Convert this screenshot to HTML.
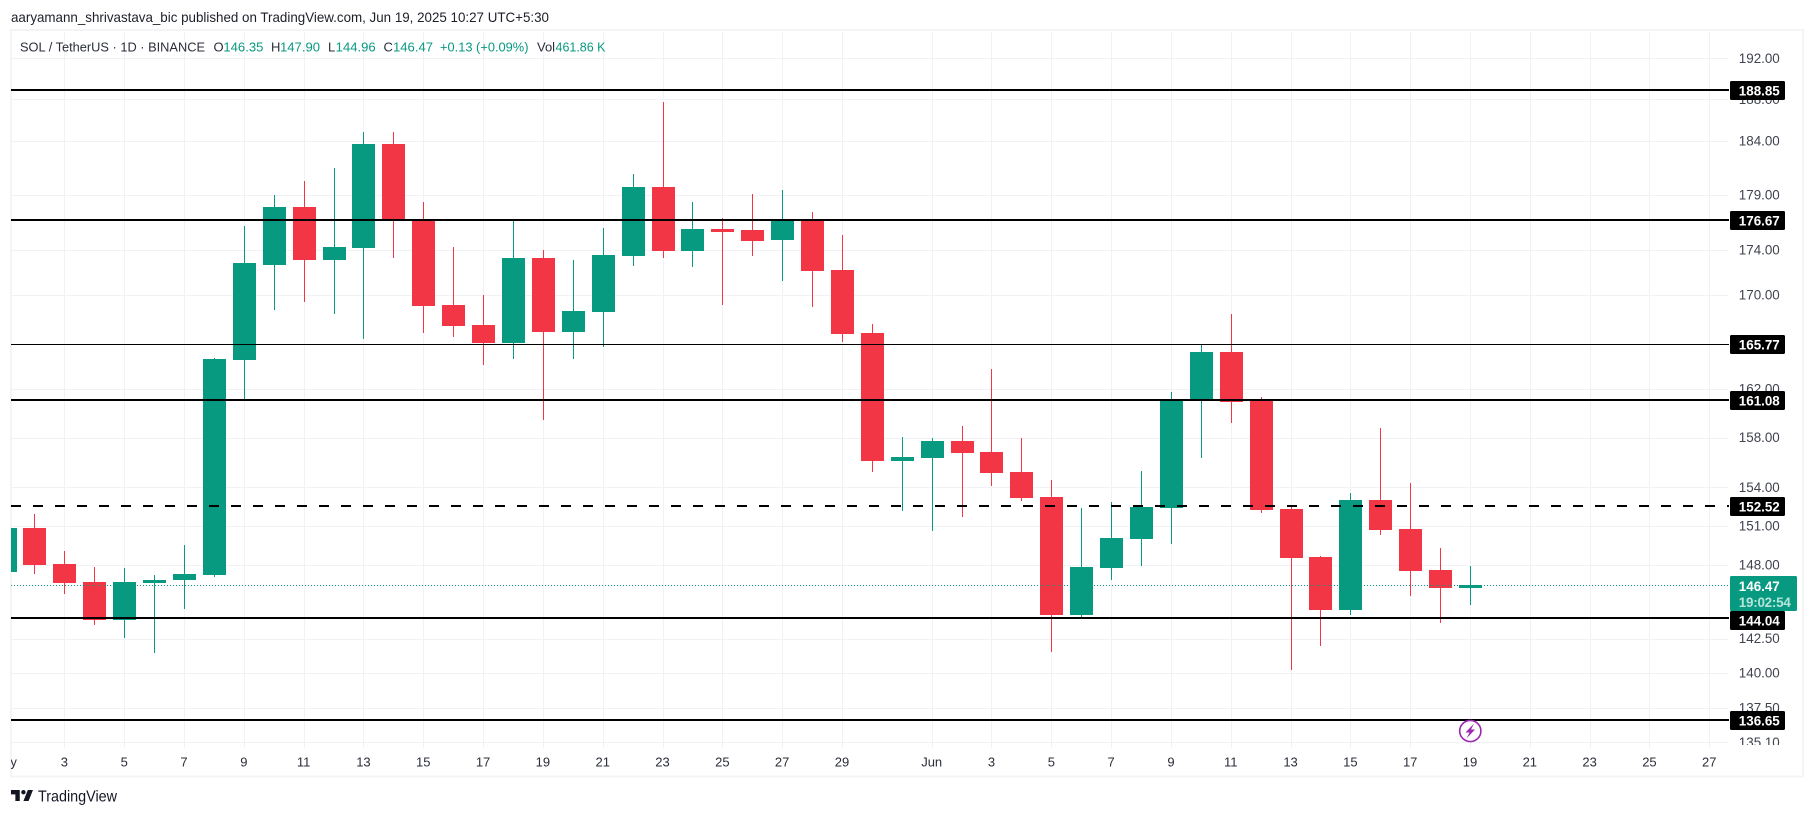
<!DOCTYPE html>
<html lang="en">
<head>
<meta charset="utf-8">
<title>SOL / TetherUS 1D chart</title>
<style>
html,body{margin:0;padding:0;background:#fff;width:1814px;height:816px;overflow:hidden}
svg{display:block;font-family:"Liberation Sans",sans-serif}
</style>
</head>
<body>
<svg id="chart" xmlns="http://www.w3.org/2000/svg" width="1814" height="816" viewBox="0 0 1814 816">
  <defs>
    <clipPath id="plot-clip"><rect x="11" y="31" width="1717" height="714"/></clipPath>
    <clipPath id="time-clip"><rect x="11" y="748" width="1717" height="28"/></clipPath>
    <clipPath id="price-clip"><rect x="1729" y="31" width="74" height="714"/></clipPath>
  </defs>
  <rect x="11" y="30" width="1792" height="746.5" fill="#fff" stroke="#f3f4f6" stroke-width="2"/>
  <text x="11" y="22" font-size="14" fill="#1c1f29" textLength="538" lengthAdjust="spacingAndGlyphs">aaryamann_shrivastava_bic published on TradingView.com, Jun 19, 2025 10:27 UTC+5:30</text>
  <g id="grid"></g>
  <g id="candles" clip-path="url(#plot-clip)"></g>
  <g id="levels"></g>
  <g id="price-axis"></g>
  <g id="time-axis"></g>
  <g font-size="13">
    <text x="20" y="51.5" fill="#2a2e39" textLength="185" lengthAdjust="spacingAndGlyphs">SOL / TetherUS · 1D · BINANCE</text>
    <text x="213.5" y="51.5" fill="#2a2e39">O</text>
    <text x="223.4" y="51.5" fill="#089981" textLength="40" lengthAdjust="spacingAndGlyphs">146.35</text>
    <text x="271" y="51.5" fill="#2a2e39">H</text>
    <text x="280" y="51.5" fill="#089981" textLength="40" lengthAdjust="spacingAndGlyphs">147.90</text>
    <text x="328" y="51.5" fill="#2a2e39">L</text>
    <text x="335.7" y="51.5" fill="#089981" textLength="40" lengthAdjust="spacingAndGlyphs">144.96</text>
    <text x="383.5" y="51.5" fill="#2a2e39">C</text>
    <text x="393" y="51.5" fill="#089981" textLength="40" lengthAdjust="spacingAndGlyphs">146.47</text>
    <text x="440" y="51.5" fill="#089981" textLength="88.5" lengthAdjust="spacingAndGlyphs">+0.13 (+0.09%)</text>
    <text x="537" y="51.5" fill="#2a2e39">Vol</text>
    <text x="555.5" y="51.5" fill="#089981" textLength="50" lengthAdjust="spacingAndGlyphs">461.86 K</text>
  </g>
  <g>
    <circle cx="1470.3" cy="731" r="10.6" fill="#fff" stroke="#9c27b0" stroke-width="1.6"/>
    <path d="M1474 723.5L1465.5 732.5h4l-3 6 8.5-9h-4z" fill="#9c27b0"/>
  </g>
  <g>
    <path transform="translate(9.5 785.6) scale(.733)" fill="#131722" d="M14 6H2v6h6v9h6V6Zm12 15h-7l6-15h7l-6 15Zm-7-9a3 3 0 1 0 0-6 3 3 0 0 0 0 6Z"/>
    <text x="38" y="801.5" font-size="16" fill="#131722" textLength="79" lengthAdjust="spacingAndGlyphs">TradingView</text>
  </g>
</svg>
<script>
// ---- data -----------------------------------------------------------------
const dates = ["May 1","May 2","May 3","May 4","May 5","May 6","May 7","May 8","May 9","May 10","May 11","May 12","May 13","May 14","May 15","May 16","May 17","May 18","May 19","May 20","May 21","May 22","May 23","May 24","May 25","May 26","May 27","May 28","May 29","May 30","May 31","Jun 1","Jun 2","Jun 3","Jun 4","Jun 5","Jun 6","Jun 7","Jun 8","Jun 9","Jun 10","Jun 11","Jun 12","Jun 13","Jun 14","Jun 15","Jun 16","Jun 17","Jun 18","Jun 19"];
const opens  = [147.47,150.84,148.07,146.71,143.87,146.64,146.86,147.24,164.43,172.66,177.89,173.11,174.17,183.73,176.62,169.14,167.42,165.87,173.28,166.82,168.54,173.46,179.73,173.90,175.89,175.80,174.89,176.71,172.22,166.73,156.11,156.35,157.73,156.83,155.24,153.25,144.24,147.77,149.98,152.39,161.08,165.10,161.08,152.31,148.60,144.61,153.01,150.76,147.62,146.35];
const highs  = [151.50,151.92,149.05,147.84,147.77,147.24,149.52,164.60,176.16,178.98,180.28,181.49,184.88,184.88,178.34,174.26,170.01,176.80,173.99,173.11,175.98,180.93,187.74,178.34,176.89,179.08,179.45,177.43,175.35,167.51,158.05,157.97,158.95,163.68,157.97,154.60,152.39,152.85,155.32,161.75,165.79,168.37,161.33,152.47,148.68,153.57,158.79,154.36,149.29,147.90];
const lows   = [146.80,147.32,145.80,143.50,142.54,141.44,144.69,147.09,161.16,168.71,169.40,168.37,166.22,173.28,166.73,166.39,164.01,164.52,159.44,164.52,165.53,172.58,173.28,172.49,169.14,173.46,171.25,168.97,165.96,155.24,152.16,150.60,151.69,154.12,152.93,141.52,144.10,146.86,147.92,149.60,156.35,159.20,152.00,140.22,141.95,144.24,150.29,145.65,143.65,144.96];
const closes = [150.84,147.99,146.64,143.87,146.71,146.86,147.32,164.52,172.84,177.89,173.11,174.26,183.73,176.62,169.05,167.33,165.87,173.28,166.82,168.62,173.55,179.73,173.90,175.89,175.71,174.80,176.71,172.13,166.65,156.11,156.43,157.73,156.75,155.16,153.17,144.24,147.84,150.06,152.47,161.08,165.10,160.92,152.23,148.53,144.61,153.01,150.68,147.54,146.26,146.47];

const priceTicks = ["192.00","188.00","184.00","179.00","174.00","170.00","162.00","158.00","154.00","151.00","148.00","142.50","140.00","137.50","135.10"];
const timeTickLabels = ["May","3","5","7","9","11","13","15","17","19","21","23","25","27","29","Jun","3","5","7","9","11","13","15","17","19","21","23","25","27"];
const timeTickDays = [0,2,4,6,8,10,12,14,16,18,20,22,24,26,28,31,33,35,37,39,41,43,45,47,49,51,53,55,57];

const levelPrices = ["188.85","176.67","165.77","161.08","152.52","144.04","136.65"];
const levelWidths = [2,2,1,2,2,2,2];
const dashedLevel = "152.52";
const lastPrice = "146.47";
const countdown = "19:02:54";

// ---- axis functions -------------------------------------------------------
const PLOT_L = 11, PLOT_R = 1728, PLOT_T = 32, PLOT_B = 745;
function yScale(p) { return 58.3 + 1946 * Math.log(192 / p); }
function xScale(i) { return 663.02 + 29.907 * (i - 22); }

const NS = "http://www.w3.org/2000/svg";
function make(parent, tag, attrs, txt) {
  const el = document.createElementNS(NS, tag);
  for (const k in attrs) el.setAttribute(k, attrs[k]);
  if (txt !== undefined) el.textContent = txt;
  parent.appendChild(el);
  return el;
}

const GREEN = "#089981", RED = "#F23645", GRID = "#f1f2f5";

// ---- grid -----------------------------------------------------------------
const gridG = document.getElementById("grid");
priceTicks.forEach(function (t) {
  const y = Math.round(yScale(parseFloat(t)));
  const ln = make(gridG, "rect", {x: PLOT_L, y: y, width: PLOT_R - PLOT_L, height: 1, fill: GRID});
  
  
});
timeTickDays.forEach(function (d) {
  const x = Math.floor(xScale(d));
  if (x < PLOT_L) return;
  const ln = make(gridG, "rect", {x: x, y: PLOT_T, width: 1, height: PLOT_B + 3 - PLOT_T, fill: GRID});
  
  
});

// ---- candles --------------------------------------------------------------
const candleG = document.getElementById("candles");
dates.forEach(function (d, i) {
  const x = Math.floor(xScale(i));
  const up = closes[i] >= opens[i];
  const col = up ? GREEN : RED;
  const g = make(candleG, "g", {});
  
  
  const yH = Math.round(yScale(highs[i])), yL = Math.round(yScale(lows[i]));
  const wick = make(g, "rect", {x: x, y: yH, width: 1, height: yL - yH, fill: col});
  
  
  const yTop = Math.round(yScale(Math.max(opens[i], closes[i])));
  const yBot = Math.round(yScale(Math.min(opens[i], closes[i])));
  const body = make(g, "rect", {x: x - 11, y: yTop, width: 23, height: Math.max(3, yBot - yTop), fill: col});
  
  
});

// ---- horizontal levels ----------------------------------------------------
const levelG = document.getElementById("levels");
const lastY = Math.round(yScale(parseFloat(lastPrice)));
const lastLine = make(levelG, "line", {x1: PLOT_L, x2: PLOT_R, y1: lastY + .5, y2: lastY + .5, stroke: GREEN, "stroke-width": 1, "stroke-dasharray": "1 2"});


levelPrices.forEach(function (p, i) {
  const y = Math.round(yScale(parseFloat(p))) + (levelWidths[i] === 1 ? .5 : 0);
  const attrs = {x1: PLOT_L, x2: PLOT_R + 1, y1: y, y2: y, stroke: "#000", "stroke-width": levelWidths[i]};
  if (p === dashedLevel) attrs["stroke-dasharray"] = "10 12";
  const ln = make(levelG, "line", attrs);
  
  
});

// ---- price axis -----------------------------------------------------------
const priceG = document.getElementById("price-axis");
const tickWrap = make(priceG, "g", {"clip-path": "url(#price-clip)"});
priceTicks.forEach(function (t) {
  const y = yScale(parseFloat(t));
  const tx = make(tickWrap, "text", {x: 1738.8, y: y + 4.6, "font-size": 13.4, fill: "#3f434e"}, t);
  
  
});
const lastBoxTop = lastY - 9, lastBoxH = 35;
levelPrices.forEach(function (p) {
  const y = Math.round(yScale(parseFloat(p)));
  let top = y - 9;
  if (top < lastBoxTop + lastBoxH && top + 19 > lastBoxTop) top = lastBoxTop + lastBoxH;
  const box = make(priceG, "rect", {x: 1730, y: top, width: 55, height: 19, rx: 1.5, fill: "#000"});
  
  
  const tx = make(priceG, "text", {x: 1738.8, y: top + 14.3, "font-size": 13.4, "font-weight": 700, fill: "#fff"}, p);
  
  
});
const lastBox = make(priceG, "rect", {x: 1730, y: lastBoxTop, width: 67, height: lastBoxH, rx: 1.5, fill: GREEN});


const lastTx = make(priceG, "text", {x: 1738.8, y: lastBoxTop + 15, "font-size": 13.4, "font-weight": 700, fill: "#fff"}, lastPrice);


const cdTx = make(priceG, "text", {x: 1738.8, y: lastBoxTop + 31, "font-size": 13.4, "font-weight": 700, fill: "#b5e4da", textLength: 52, lengthAdjust: "spacing"}, countdown);



// ---- time axis ------------------------------------------------------------
const timeG = document.getElementById("time-axis");
timeG.setAttribute("clip-path", "url(#time-clip)");
timeTickLabels.forEach(function (t, i) {
  const tx = make(timeG, "text", {x: xScale(timeTickDays[i]) - .5, y: 766.3, "font-size": 13, "text-anchor": "middle", fill: "#2a2e39"}, t);
  
  
});
</script>
</body>
</html>
